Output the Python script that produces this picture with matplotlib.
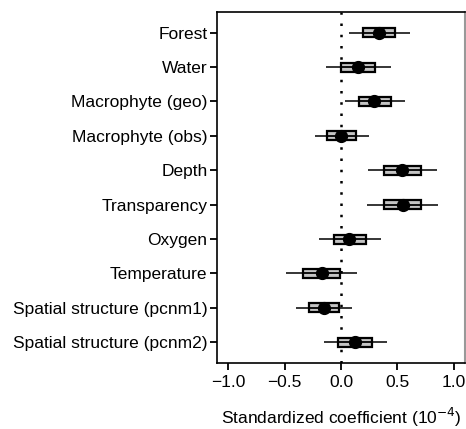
import numpy as np
import matplotlib
matplotlib.use("Agg")
import matplotlib.pyplot as plt

plt.rcParams['font.family'] = ['Liberation Sans', 'DejaVu Sans']

# Coefficient summaries (units of 1e-4)
labels = ["Forest", "Water", "Macrophyte (geo)", "Macrophyte (obs)", "Depth",
          "Transparency", "Oxygen", "Temperature",
          "Spatial structure (pcnm1)", "Spatial structure (pcnm2)"]
whisk_lo = [0.067, -0.13, 0.037, -0.23, 0.24, 0.233, -0.196, -0.487, -0.40, -0.156]
whisk_hi = [0.61, 0.44, 0.565, 0.25, 0.85, 0.864, 0.35, 0.141, 0.10, 0.407]
box_lo = [0.195, 0.0, 0.16, -0.125, 0.384, 0.384, -0.067, -0.342, -0.289, -0.025]
box_hi = [0.48, 0.30, 0.44, 0.133, 0.707, 0.713, 0.22, -0.007, -0.022, 0.275]
median = [0.34, 0.15, 0.295, 0.0, 0.54, 0.547, 0.067, -0.17, -0.156, 0.12]

ypos = np.arange(len(labels))
box_lo = np.array(box_lo)
box_hi = np.array(box_hi)

fig = plt.figure(figsize=(4.66, 4.29), dpi=100)
ax = fig.add_axes([0.466, 0.154, 0.532, 0.818])

# reference line at zero
ax.axvline(0, color='black', linestyle=(0, (1, 3.5)), linewidth=1.8, zorder=1)

# whiskers
ax.hlines(ypos, whisk_lo, whisk_hi, color='black', linewidth=1.1, zorder=2)
# boxes
ax.barh(ypos, box_hi - box_lo, left=box_lo, height=0.26, color='#c4c4c4',
        edgecolor='black', linewidth=1.6, zorder=3)
ax.hlines(ypos, box_lo, box_hi, color='black', linewidth=1.3, zorder=4)
# medians
ax.plot(median, ypos, 'o', color='black', markersize=8.5, zorder=5)

ax.set_xlim(-1.1, 1.1)
ax.set_ylim(9.6, -0.6)
ax.set_yticks(ypos)
ax.set_yticklabels(labels, fontsize=12.5)
ax.set_xticks([-1.0, -0.5, 0.0, 0.5, 1.0])
ax.set_xticklabels(["\u22121.0", "\u22120.5", "0.0", "0.5", "1.0"], fontsize=12.5)
ax.tick_params(axis='both', direction='out', length=5, width=1.3, color='black')
ax.tick_params(axis='x', pad=4)
ax.tick_params(axis='y', pad=2)
ax.set_xlabel("Standardized coefficient (10$^{-4}$)", fontsize=12.5, labelpad=11)

for side in ['left', 'top', 'bottom']:
    ax.spines[side].set_linewidth(1.2)
ax.spines['right'].set_color('#999999')
ax.spines['right'].set_linewidth(1.5)

fig.savefig("out.png", dpi=100)
